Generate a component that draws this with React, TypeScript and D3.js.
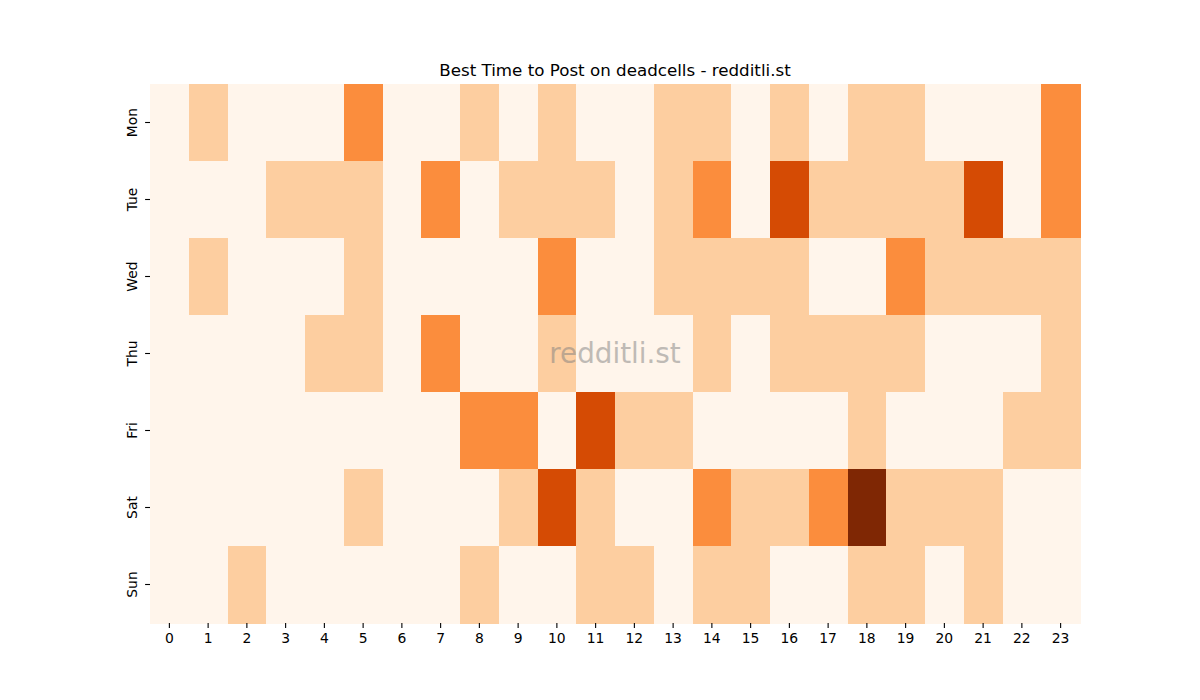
import { useEffect, useRef } from "react";
import * as d3 from "d3";

const WIDTH = 1200;
const HEIGHT = 700;
const MARGIN = { top: 84, right: 120, bottom: 77, left: 150 };

const days = ["Mon", "Tue", "Wed", "Thu", "Fri", "Sat", "Sun"];
const hours = d3.range(24).map(String);

// post counts per hour, one row per weekday
const mon = [0, 1, 0, 0, 0, 2, 0, 0, 1, 0, 1, 0, 0, 1, 1, 0, 1, 0, 1, 1, 0, 0, 0, 2];
const tue = [0, 0, 0, 1, 1, 1, 0, 2, 0, 1, 1, 1, 0, 1, 2, 0, 3, 1, 1, 1, 1, 3, 0, 2];
const wed = [0, 1, 0, 0, 0, 1, 0, 0, 0, 0, 2, 0, 0, 1, 1, 1, 1, 0, 0, 2, 1, 1, 1, 1];
const thu = [0, 0, 0, 0, 1, 1, 0, 2, 0, 0, 1, 0, 0, 0, 1, 0, 1, 1, 1, 1, 0, 0, 0, 1];
const fri = [0, 0, 0, 0, 0, 0, 0, 0, 2, 2, 0, 3, 1, 1, 0, 0, 0, 0, 1, 0, 0, 0, 1, 1];
const sat = [0, 0, 0, 0, 0, 1, 0, 0, 0, 1, 3, 1, 0, 0, 2, 1, 1, 2, 4, 1, 1, 1, 0, 0];
const sun = [0, 0, 1, 0, 0, 0, 0, 0, 1, 0, 0, 1, 1, 0, 1, 1, 0, 0, 1, 1, 0, 1, 0, 0];

const rows = [mon, tue, wed, thu, fri, sat, sun];

export default function App() {
  const axesRef = useRef(null);
  const boundsWidth = WIDTH - MARGIN.left - MARGIN.right;
  const boundsHeight = HEIGHT - MARGIN.top - MARGIN.bottom;

  const xScale = d3.scaleBand().domain(hours).range([0, boundsWidth]);
  const yScale = d3.scaleBand().domain(days).range([0, boundsHeight]);
  const maxVal = d3.max(rows.flat()) as number;
  const color = d3.scaleSequential(d3.interpolateOranges).domain([0, maxVal]);

  useEffect(() => {
    const g = d3.select(axesRef.current);
    g.selectAll("*").remove();
    const xAxis = g
      .append("g")
      .attr("transform", `translate(0,${boundsHeight})`)
      .call(d3.axisBottom(xScale).tickSize(4.9).tickPadding(5));
    const yAxis = g.append("g").call(d3.axisLeft(yScale).tickSize(4.9).tickPadding(5));
    [xAxis, yAxis].forEach((a) => {
      a.select(".domain").remove();
      a.selectAll("line").attr("stroke", "#000").attr("stroke-width", 1.1);
      a.selectAll("text")
        .attr("fill", "#000")
        .style("font-family", "DejaVu Sans")
        .style("font-size", "13.9px");
    });
    yAxis
      .selectAll(".tick text")
      .attr("text-anchor", "middle")
      .attr("dy", 0)
      .attr("x", 0)
      .attr("transform", "translate(-18,0) rotate(-90)")
      .attr("dominant-baseline", "central");
  }, [xScale, yScale, boundsHeight]);

  const cells = rows.flatMap((row, r) =>
    row.map((v, c) => (
      <rect
        key={`${r}-${c}`}
        x={xScale(hours[c])}
        y={yScale(days[r])}
        width={xScale.bandwidth() + 0.5}
        height={yScale.bandwidth() + 0.5}
        fill={color(v)}
        shapeRendering="crispEdges"
      />
    ))
  );

  return (
    <svg width={WIDTH} height={HEIGHT} style={{ display: "block", margin: -8 }}>
      <rect width={WIDTH} height={HEIGHT} fill="#fff" />
      <text
        x={MARGIN.left + boundsWidth / 2}
        y={76}
        textAnchor="middle"
        style={{ fontFamily: "DejaVu Sans", fontSize: 16.7 }}
      >
        Best Time to Post on deadcells - redditli.st
      </text>
      <g transform={`translate(${MARGIN.left},${MARGIN.top})`}>{cells}</g>
      <g ref={axesRef} transform={`translate(${MARGIN.left},${MARGIN.top})`} />
      <text
        x={MARGIN.left + boundsWidth / 2}
        y={MARGIN.top + boundsHeight / 2}
        textAnchor="middle"
        dominantBaseline="central"
        fill="#808080"
        opacity={0.5}
        style={{ fontFamily: "DejaVu Sans", fontSize: 27.8 }}
      >
        redditli.st
      </text>
    </svg>
  );
}
